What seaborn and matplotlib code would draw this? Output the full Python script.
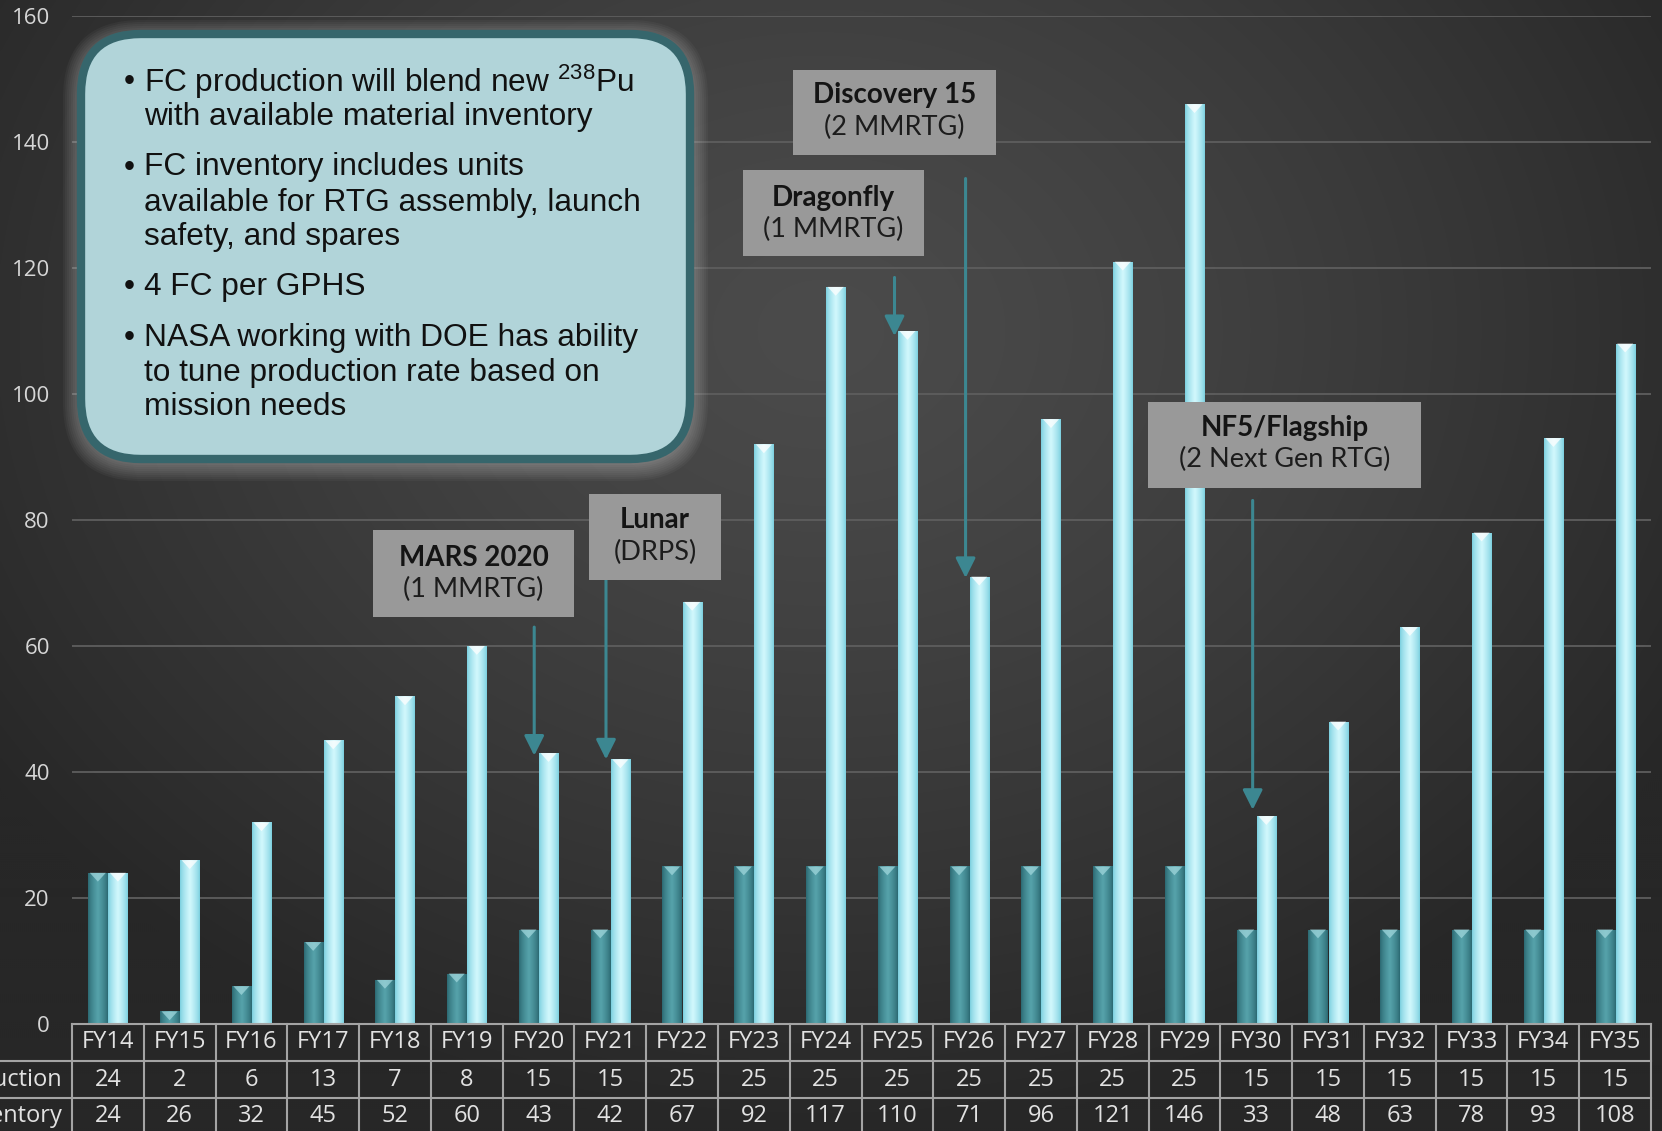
import numpy as np
import pandas as pd
import matplotlib
matplotlib.use("Agg")
import matplotlib.pyplot as plt
import seaborn as sns
from matplotlib.patches import FancyBboxPatch, Rectangle, Polygon
from matplotlib.lines import Line2D
from matplotlib.transforms import IdentityTransform, blended_transform_factory
from matplotlib.colors import to_rgb

# ---------------- data ----------------
years = ["FY14", "FY15", "FY16", "FY17", "FY18", "FY19", "FY20", "FY21", "FY22", "FY23", "FY24",
         "FY25", "FY26", "FY27", "FY28", "FY29", "FY30", "FY31", "FY32", "FY33", "FY34", "FY35"]
production = [24, 2, 6, 13, 7, 8, 15, 15, 25, 25, 25, 25, 25, 25, 25, 25, 15, 15, 15, 15, 15, 15]
inventory = [24, 26, 32, 45, 52, 60, 43, 42, 67, 92, 117, 110, 71, 96, 121, 146, 33, 48, 63, 78, 93, 108]
row_labels = ["FC Production", "FC Inventory"]
y_ticks = [0, 20, 40, 60, 80, 100, 120, 140, 160]

bullets = [
    ["FC production will blend new $^{\\mathrm{238}}$Pu", "with available material inventory"],
    ["FC inventory includes units", "available for RTG assembly, launch", "safety, and spares"],
    ["4 FC per GPHS"],
    ["NASA working with DOE has ability", "to tune production rate based on", "mission needs"],
]
missions = [
    ("MARS 2020", "(1 MMRTG)"),
    ("Lunar", "(DRPS)"),
    ("Dragonfly", "(1 MMRTG)"),
    ("Discovery 15", "(2 MMRTG)"),
    ("NF5/Flagship", "(2 Next Gen RTG)"),
]

# ---------------- style ----------------
plt.rcParams["font.family"] = ["Open Sans", "DejaVu Sans"]
plt.rcParams["mathtext.fontset"] = "custom"
plt.rcParams["mathtext.rm"] = "Liberation Sans"
plt.rcParams["mathtext.it"] = "Liberation Sans:italic"
plt.rcParams["mathtext.bf"] = "Liberation Sans:bold"

W, H = 1662, 1131
fig = plt.figure(figsize=(W / 100, H / 100), dpi=100)
fig.patch.set_facecolor("#2c2c2c")

# background radial gradient
bg = fig.add_axes([0, 0, 1, 1], zorder=-10)
yy, xx = np.mgrid[0:H:2, 0:W:2]
r = np.sqrt(((xx - 820) / 1000.0) ** 2 + ((yy - 330) / 800.0) ** 2)
r = np.clip(r, 0, 1)
c_in = np.array(to_rgb("#4b4b4b"))
c_out = np.array(to_rgb("#272727"))
img = c_in[None, None, :] * (1 - r[..., None] ** 1.3) + c_out[None, None, :] * (r[..., None] ** 1.3)
bg.imshow(img, extent=[0, W, H, 0], aspect="auto", interpolation="bilinear")
bg.set_xlim(0, W)
bg.set_ylim(H, 0)
bg.axis("off")

# main axes
ax_left, ax_right, ax_bottom, ax_top = 72, 1651, 1024, 16
ax = fig.add_axes([ax_left / W, 1 - ax_bottom / H, (ax_right - ax_left) / W, (ax_bottom - ax_top) / H])
ax.patch.set_alpha(0)

df = pd.DataFrame({
    "year": years * 2,
    "series": ["Production"] * len(years) + ["Inventory"] * len(years),
    "value": production + inventory,
})
pal = {"Production": "#3f8e97", "Inventory": "#a6eaf6"}
sns.barplot(data=df, x="year", y="value", hue="series", palette=pal, width=0.56, gap=0.05,
            saturation=1, ax=ax, legend=False, edgecolor="none", zorder=3)

# gradient fill and top highlight for each bar
grad_cols = {
    to_rgb("#3f8e97"): (to_rgb("#2a6770"), to_rgb("#56a3ab"), "#9fd6dc"),
    to_rgb("#a6eaf6"): (to_rgb("#78cede"), to_rgb("#d2f8fd"), "#ffffff"),
}
for p in list(ax.patches):
    h = p.get_height()
    if h <= 0:
        continue
    fc = tuple(np.round(p.get_facecolor()[:3], 3))
    key = min(grad_cols.keys(), key=lambda k: sum((a - b) ** 2 for a, b in zip(k, fc)))
    e, c, cap = np.array(grad_cols[key][0]), np.array(grad_cols[key][1]), grad_cols[key][2]
    t = np.linspace(-1, 1, 64)
    w = (1 - np.abs(t)) ** 0.7
    g = e[None, :] * (1 - w[:, None]) + c[None, :] * w[:, None]
    x0 = p.get_x()
    pw = p.get_width()
    top = p.get_y() + h
    im = ax.imshow(g[None, :, :], extent=[x0, x0 + pw, p.get_y(), top],
                   aspect="auto", zorder=3.5, interpolation="bilinear")
    im.set_clip_path(p)
    dh = min(1.4, h)
    ax.add_patch(Polygon([[x0 + pw * 0.08, top], [x0 + pw * 0.92, top], [x0 + pw * 0.5, top - dh]],
                         closed=True, fc=cap, ec="none", alpha=0.75, zorder=4))

ax.set_xlim(-0.5, len(years) - 0.5)
ax.set_ylim(0, 160)
ax.set_yticks(y_ticks)
ax.yaxis.grid(True, color="#5e5e5e", lw=1.3)
ax.xaxis.grid(False)
ax.set_axisbelow(True)
for s in ax.spines.values():
    s.set_visible(False)
ax.set_xticks([])
ax.set_xlabel("")
ax.set_ylabel("")
ax.tick_params(axis="y", length=0, pad=16, labelsize=16, labelcolor="#d6d6d6")

# ---------------- data table ----------------
trans = blended_transform_factory(ax.transData, fig.transFigure)
fy = lambda ypx: 1 - ypx / H
line_c = "#a4a4a4"
n = len(years)
fig.add_artist(Line2D([ax_left / W, ax_right / W], [fy(1024), fy(1024)], color=line_c, lw=1.5,
                      transform=fig.transFigure))
for yl in (1061, 1098):
    fig.add_artist(Line2D([0, ax_right / W], [fy(yl), fy(yl)], color=line_c, lw=1.5,
                          transform=fig.transFigure))
for i in range(n + 1):
    ax.add_artist(Line2D([i - 0.5, i - 0.5], [fy(1024), fy(1131)], color=line_c, lw=1.5,
                         transform=trans, clip_on=False))
tcol = "#e2e2e2"
for i, yr in enumerate(years):
    ax.text(i, fy(1042.5), yr, transform=trans, ha="center", va="center", fontsize=17, color=tcol)
    ax.text(i, fy(1079.5), str(production[i]), transform=trans, ha="center", va="center",
            fontsize=17, color=tcol)
    ax.text(i, fy(1116.5), str(inventory[i]), transform=trans, ha="center", va="center",
            fontsize=17, color=tcol)
fig.text(62 / W, fy(1079.5), row_labels[0], ha="right", va="center", fontsize=17, color=tcol)
fig.text(62 / W, fy(1116.5), row_labels[1], ha="right", va="center", fontsize=17, color=tcol)

# ---------------- bullet box ----------------
idt = IdentityTransform()
bx0, by0, bx1, by1 = 81, 34, 690, 459
for k in range(9, 0, -1):
    glow = FancyBboxPatch((bx0 - 2 * k, H - by1 - 2 * k - 4), (bx1 - bx0) + 4 * k, (by1 - by0) + 4 * k,
                          boxstyle=f"round,pad=0,rounding_size={60 + 2 * k}",
                          fc="white", ec="none", alpha=0.035, transform=idt)
    fig.add_artist(glow)
box = FancyBboxPatch((bx0, H - by1), bx1 - bx0, by1 - by0,
                     boxstyle="round,pad=0,rounding_size=60",
                     fc="#b1d4d9", ec="#36666c", lw=6, transform=idt)
fig.add_artist(box)
line_y = [[81.6, 116.6], [167.5, 202.5, 237.4], [287.3], [338.1, 373.1, 407.0]]
for para, ys in zip(bullets, line_y):
    fig.text(124, H - ys[0], "\u2022", transform=idt, ha="left", va="center", fontsize=22.5,
             color="#111111", family="Liberation Sans")
    for txt, y in zip(para, ys):
        fig.text(144, H - y, txt, transform=idt, ha="left", va="center", fontsize=22.8,
                 color="#111111", family="Liberation Sans")

# ---------------- mission call-outs ----------------
boxes = [
    (373, 530, 574, 617, 557.5, 589),
    (589, 494, 721, 580, 520, 552),
    (743, 170, 924, 256, 198, 229),
    (793, 70, 996, 155, 95.4, 127),
    (1148, 402, 1421, 488, 428, 459),
]
for (t1, t2), (x0, y0, x1, y1, ya, yb) in zip(missions, boxes):
    fig.add_artist(Rectangle((x0, H - y1), x1 - x0, y1 - y0, fc="#999999", ec="none", transform=idt))
    xc = (x0 + x1) / 2
    fig.text(xc, H - ya, t1, transform=idt, ha="center", va="center", fontsize=20,
             fontweight="bold", color="#141414", family=["Lato", "DejaVu Sans"])
    fig.text(xc, H - yb, t2, transform=idt, ha="center", va="center", fontsize=19.5,
             color="#1c1c1c", family=["Lato", "DejaVu Sans"])

arrows = [(5.94, 63.0, 42.6), (6.94, 70.5, 42.0), (10.96, 118.5, 109.2),
          (11.95, 134.2, 70.8), (15.95, 83.1, 34.0)]
for x, ys, ye in arrows:
    ax.annotate("", xy=(x, ye), xytext=(x, ys),
                arrowprops=dict(arrowstyle="-|>,head_length=0.6,head_width=0.3", mutation_scale=20,
                                color="#3c8791", lw=2.2, shrinkA=0, shrinkB=0), zorder=6)

fig.savefig("out.png", dpi=100, facecolor=fig.get_facecolor())
